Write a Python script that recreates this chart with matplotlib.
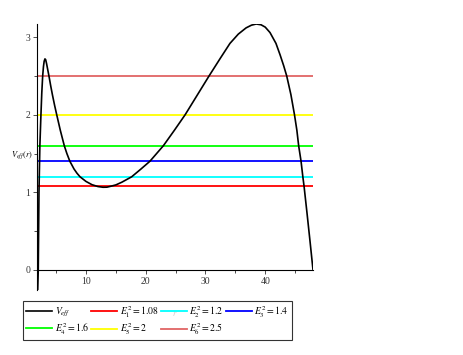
import matplotlib
matplotlib.use("Agg")
import matplotlib.pyplot as plt
from matplotlib.ticker import MultipleLocator

plt.rcParams['font.family'] = ['Liberation Serif', 'DejaVu Serif']
plt.rcParams['mathtext.fontset'] = 'stix'

# effective potential
r_vals = [1.92, 2.01, 2.13, 2.28, 2.46, 2.6, 2.75, 2.88, 3.0, 3.13, 3.25, 3.4, 3.6,
          3.8, 4.1, 4.4, 4.75, 5.1, 5.7, 6.37, 6.8, 7.3, 8.0, 8.5, 9.0, 10.0,
          11.0, 12.0, 12.85, 13.5, 14.0, 15.0, 16.0, 17.65, 19.2, 20.7, 22.95,
          24.8, 26.6, 28.6, 30.6, 32.5, 34.1, 35.5, 36.8, 37.7, 38.5, 39.3, 40.0,
          40.8, 41.8, 42.5, 43.1, 43.6, 44.3, 44.9, 45.3, 45.6, 46.0, 46.3,
          46.5, 47.0, 47.5, 48.0]
v_eff = [-0.26, 0.0, 1.0, 1.6, 2.0, 2.28, 2.5, 2.62, 2.69, 2.72, 2.71, 2.66, 2.58,
         2.5, 2.37, 2.25, 2.12, 2.0, 1.8, 1.6, 1.5, 1.4, 1.3, 1.245, 1.2, 1.14,
         1.098, 1.074, 1.065, 1.066, 1.075, 1.095, 1.13, 1.2, 1.3, 1.4, 1.6,
         1.8, 2.0, 2.25, 2.5, 2.73, 2.92, 3.04, 3.12, 3.155, 3.17, 3.16, 3.13,
         3.06, 2.92, 2.77, 2.63, 2.5, 2.26, 2.0, 1.8, 1.6, 1.4, 1.2,
         1.08, 0.73, 0.37, 0.0]

energy_labels = [r'$E_1^2=1.08$', r'$E_2^2=1.2$', r'$E_3^2=1.4$',
                 r'$E_4^2=1.6$', r'$E_5^2=2$', r'$E_6^2=2.5$']
energy_values = [1.08, 1.2, 1.4, 1.6, 2.0, 2.5]
energy_colors = ['#FF0000', '#00FFFF', '#0000FF', '#00FF00', '#FFFF00', '#E06464']

fig = plt.figure(figsize=(4.64, 3.55), dpi=100)
ax = fig.add_axes([37 / 464, 65 / 355, 276 / 464, 266 / 355])

handles = []
h, = ax.plot(r_vals, v_eff, color='black', lw=1.2, zorder=3, label=r'$V_{eff}$')
handles.append(h)
for e, c, lab in zip(energy_values, energy_colors, energy_labels):
    h, = ax.plot([r_vals[0], r_vals[-1]], [e, e], color=c, lw=1.3, zorder=2, label=lab)
    handles.append(h)

ax.set_xlim(1.8, 48.0)
ax.set_ylim(-0.26, 3.17)

ax.spines['top'].set_visible(False)
ax.spines['right'].set_visible(False)
ax.spines['bottom'].set_position(('data', 0))
for s in ['left', 'bottom']:
    ax.spines[s].set_linewidth(0.8)

ax.xaxis.set_major_locator(MultipleLocator(10))
ax.xaxis.set_minor_locator(MultipleLocator(5))
ax.yaxis.set_major_locator(MultipleLocator(1))
ax.yaxis.set_minor_locator(MultipleLocator(0.5))
ax.tick_params(which='major', length=3, width=0.6, labelsize=7, pad=2, colors='#333333')
ax.tick_params(which='minor', length=2, width=0.5)
ax.set_xticks([10, 20, 30, 40])
ax.set_yticks([0, 1, 2, 3])

ax.text(0.5, 0.0 - 24 / 266, r'$r$', transform=ax.transAxes, ha='center', va='center', fontsize=6)
fig.text(22 / 464, 1 - 155 / 355, r'$V_{eff}(r)$', ha='center', va='center', fontsize=6)

# legend order so rows read V, E1, E2, E3 / E4, E5, E6
order = [0, 4, 1, 5, 2, 6, 3]
leg = fig.legend([handles[i] for i in order], [handles[i].get_label() for i in order],
                 ncol=4, loc='upper left', bbox_to_anchor=(23 / 464, 1 - 301 / 355),
                 fontsize=7, frameon=True, fancybox=False, edgecolor='black',
                 handlelength=2.7, handletextpad=0.25, columnspacing=0.2,
                 labelspacing=0.15, borderpad=0.3, borderaxespad=0)
leg.get_frame().set_linewidth(0.8)

fig.savefig('out.png', dpi=100)
